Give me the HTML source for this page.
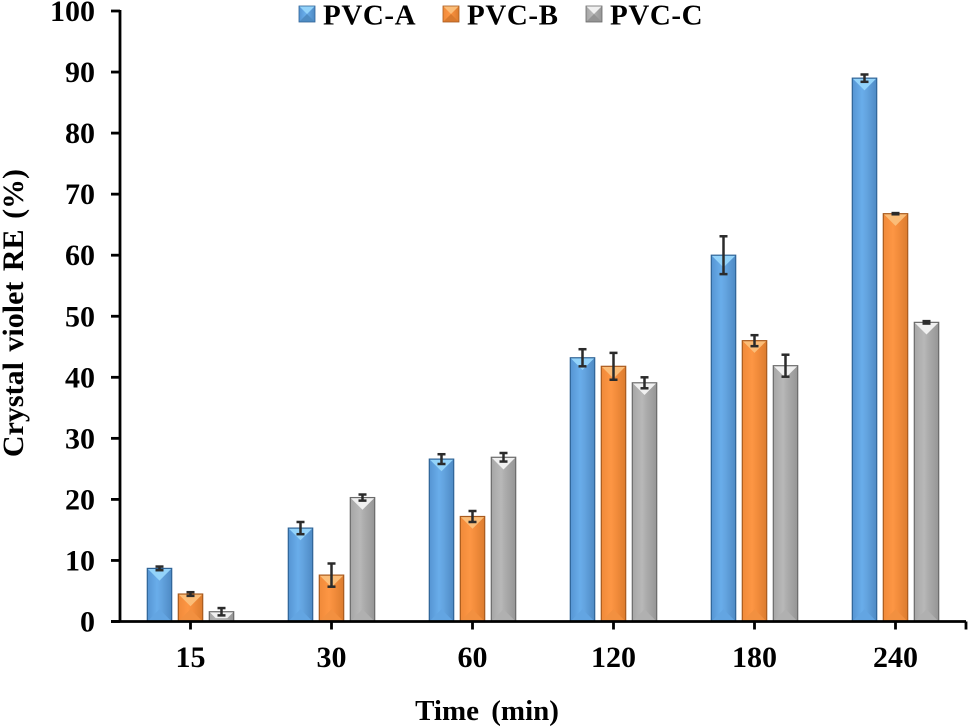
<!DOCTYPE html>
<html>
<head>
<meta charset="utf-8">
<style>
html,body{margin:0;padding:0;background:#fff;}
svg{display:block;}
text{font-family:"Liberation Serif",serif;font-weight:bold;fill:#000;}
#soft{filter:blur(0.35px);}
</style>
</head>
<body>
<svg id="chart" xmlns="http://www.w3.org/2000/svg" width="968" height="728" viewBox="0 0 968 728">
<defs>
<linearGradient id="grad0" x1="0" x2="1" y1="0" y2="0"><stop offset="0" stop-color="#5595d3"/><stop offset="0.4" stop-color="#69adea"/><stop offset="0.55" stop-color="#65a6e2"/><stop offset="1" stop-color="#4e8ac4"/></linearGradient>
<linearGradient id="grad1" x1="0" x2="1" y1="0" y2="0"><stop offset="0" stop-color="#f08a3a"/><stop offset="0.4" stop-color="#fd9644"/><stop offset="0.55" stop-color="#f68f3e"/><stop offset="1" stop-color="#dc7c2e"/></linearGradient>
<linearGradient id="grad2" x1="0" x2="1" y1="0" y2="0"><stop offset="0" stop-color="#a6a6a6"/><stop offset="0.4" stop-color="#b8b8b8"/><stop offset="0.55" stop-color="#adadad"/><stop offset="1" stop-color="#969696"/></linearGradient>
</defs>
<g id="soft">
<g id="bars"></g>
<g id="axes"></g>
<g id="legend"></g>
<text x="487" y="720" text-anchor="middle" font-size="29" word-spacing="5">Time (min)</text>
<text transform="translate(23 313) rotate(-90)" text-anchor="middle" font-size="30" word-spacing="3">Crystal violet RE (%)</text>
</g>
</svg>
<script>
const categories = ['15','30','60','120','180','240'];
const seriesNames = ['PVC-A','PVC-B','PVC-C'];
const pvcA = [8.7,15.3,26.6,43.2,60,89];
const pvcB = [4.5,7.6,17.2,41.8,46,66.8];
const pvcC = [1.6,20.3,26.9,39.1,41.9,49];
const errA = [0.3,1,0.8,1.4,3.1,0.6];
const errB = [0.3,1.9,0.9,2.2,0.9,0.1];
const errC = [0.6,0.5,0.7,0.9,1.8,0.2];
const yTicks = [0,10,20,30,40,50,60,70,80,90,100];

const NS = 'http://www.w3.org/2000/svg';
const left = 120, right = 966, top0 = 11, base = 621.5;
const band = (right - left) / categories.length;
const barW = 24.4, step = 31;
const xScale = i => left + band * (i + 0.5);
const yScale = v => base - (v / 100) * (base - top0);
const palettes = [
  {top:'#93d3fa',right:'#4f8cc3',bottom:'#63a5e2',edge:'#2f6396',body:'url(#grad0)'},
  {top:'#fbbd78',right:'#d97a2e',bottom:'#f29040',edge:'#a85a1e',body:'url(#grad1)'},
  {top:'#f0f0f0',right:'#949494',bottom:'#b0b0b0',edge:'#6a6a6a',body:'url(#grad2)'}
];
function make(tag, attrs, parent){
  const el = document.createElementNS(NS, tag);
  for (const k in attrs) el.setAttribute(k, attrs[k]);
  parent.appendChild(el);
  return el;
}
function poly(points, fill, parent){
  return make('polygon', {points: points.map(p => p.join(',')).join(' '), fill: fill}, parent);
}
function drawBevel(g, x, y, w, h, p){
  const c = x + w / 2;
  const dBottom = Math.min(w / 2, h / 2);
  const dTop = Math.min(w / 2, h * 0.65);
  make('rect', {x:x, y:y, width:w, height:h, fill:p.body}, g);
  poly([[x,y+h],[c,y+h-dBottom],[x+w,y+h]], p.bottom, g);
  poly([[x,y],[x+w,y],[x+w-dTop,y+dTop],[x+dTop,y+dTop]], p.top, g);
  make('rect', {x:x, y:y, width:w, height:h, fill:'none', stroke:p.edge, 'stroke-width':1.2}, g);
}

const barsG = document.getElementById('bars');
const allValues = [pvcA, pvcB, pvcC];
const allErrors = [errA, errB, errC];
allValues.forEach((vals, s) => {
  vals.forEach((v, i) => {
    const g = document.createElementNS(NS, 'g');
    
    
    barsG.appendChild(g);
    const cx = xScale(i) + (s - 1) * step;
    const y = yScale(v);
    drawBevel(g, cx - barW / 2, y, barW, base - y, palettes[s]);
    const e = allErrors[s][i];
    const y1 = yScale(v + e), y2 = yScale(v - e);
    const eb = {stroke:'#2b2b2b', 'stroke-width':2.5, fill:'none'};
    make('line', Object.assign({x1:cx, x2:cx, y1:y1, y2:y2}, eb), g);
    make('line', Object.assign({x1:cx-4, x2:cx+4, y1:y1, y2:y1}, eb), g);
    make('line', Object.assign({x1:cx-4, x2:cx+4, y1:y2, y2:y2}, eb), g);
  });
});

const axesG = document.getElementById('axes');
const axisStyle = {stroke:'#000', 'stroke-width':2.8, fill:'none'};
const yLine = make('line', Object.assign({x1:left, x2:left, y1:top0-1, y2:base+1}, axisStyle), axesG);


const xLine = make('line', Object.assign({x1:left-9, x2:right, y1:base, y2:base}, axisStyle), axesG);


yTicks.forEach(t => {
  const y = yScale(t);
  make('line', Object.assign({x1:left-9, x2:left, y1:y, y2:y}, axisStyle), axesG);
  const label = make('text', {x:95, y:y+10, 'text-anchor':'end', 'font-size':30}, axesG);
  
  
  label.textContent = t;
});
categories.forEach((c, i) => {
  const x = xScale(i);
  make('line', Object.assign({x1:x, x2:x, y1:base, y2:base+8}, axisStyle), axesG);
  const label = make('text', {x:x, y:667, 'text-anchor':'middle', 'font-size':30}, axesG);
  
  
  label.textContent = c;
});
make('line', Object.assign({x1:right, x2:right, y1:base, y2:base+8}, axisStyle), axesG);

const legendG = document.getElementById('legend');
const legendX = [299, 443, 586];
seriesNames.forEach((n, s) => {
  const g = document.createElementNS(NS, 'g');
  
  
  legendG.appendChild(g);
  const x = legendX[s];
  const p = palettes[s];
  make('rect', {x:x, y:6, width:16, height:16, fill:p.body}, g);
  poly([[x,22],[x+8,14],[x+16,22]], p.right, g);
  poly([[x,6],[x+16,6],[x+8,14]], p.top, g);
  make('rect', {x:x, y:6, width:16, height:16, fill:'none', stroke:p.edge, 'stroke-width':0.8}, g);
  const label = make('text', {x:x+24, y:24.5, 'font-size':29, 'letter-spacing':0.6}, g);
  label.textContent = n;
});
</script>
</body>
</html>
